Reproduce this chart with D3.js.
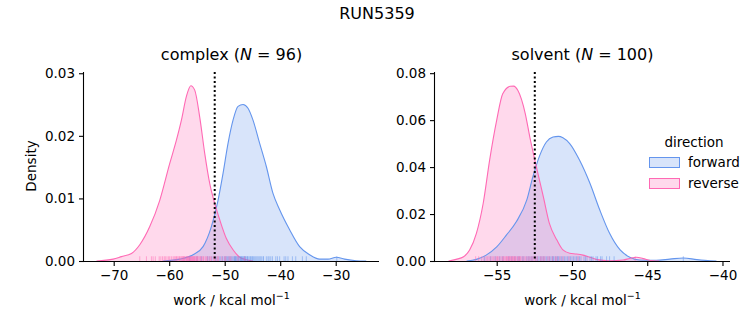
<!DOCTYPE html>
<html>
<head>
<meta charset="utf-8">
<script src="https://cdn.jsdelivr.net/npm/d3@7"></script>
<style>
  body { margin: 0; background: #fff; }
  text { font-family: "DejaVu Sans", sans-serif; fill: #000; }
  .axis path, .axis line { stroke: #000; stroke-width: 1.1; }
  .axis text { font-size: 13.5px; }
</style>
</head>
<body>
<svg id="chart" width="753" height="325"></svg>
<script>
var colors = {forward: "#6495ed", reverse: "#ff69b4"};

// density curves: [work, density]
var complexForward = [[-61.1,0],[-58.1,0.0003],[-55.7,0.001],[-53.9,0.0023],[-52.4,0.0055],[-51.2,0.0097],[-50.3,0.014],[-49.4,0.0188],[-48.5,0.0225],[-47.6,0.0247],[-46.7,0.025],[-45.8,0.0244],[-44.9,0.0225],[-43.7,0.0188],[-42.5,0.0151],[-41.3,0.0108],[-40.1,0.0082],[-38.3,0.005],[-36.5,0.0023],[-34.7,0.001],[-32.9,0.0003],[-31.4,0.0003],[-29.9,0.0006],[-28.4,0.0003],[-26.3,0.00005],[-24.5,0]];
var complexReverse = [[-73.1,0],[-70.1,0.0003],[-68.6,0.0007],[-66.8,0.0012],[-65.3,0.0026],[-63.5,0.0055],[-61.7,0.0097],[-59.9,0.0156],[-58.7,0.0193],[-57.8,0.0225],[-56.9,0.0263],[-56.1,0.028],[-55.4,0.0273],[-54.5,0.023],[-53.6,0.0172],[-52.7,0.0124],[-51.8,0.0092],[-50.9,0.0066],[-49.7,0.0036],[-48.5,0.0018],[-47.3,0.0006],[-46.1,0.0002],[-44.9,0]];
var solventForward = [[-57.0,0],[-56.35,0.0007],[-55.7,0.0025],[-55.0,0.006],[-54.36,0.011],[-53.7,0.0167],[-53.0,0.026],[-52.6,0.0358],[-52.14,0.045],[-51.7,0.0507],[-51.26,0.0528],[-50.9,0.0531],[-50.6,0.0525],[-50.15,0.05],[-49.5,0.043],[-48.8,0.033],[-48.15,0.0217],[-47.5,0.0118],[-46.8,0.0047],[-46.16,0.0016],[-45.5,0.0004],[-44.4,0.0003],[-43.5,0.0008],[-42.6,0.0013],[-41.7,0.0006],[-40.8,0.0001],[-40.4,0]];
var solventReverse = [[-58.2,0],[-57.7,0.0007],[-57.2,0.0018],[-56.8,0.0047],[-56.35,0.0118],[-55.9,0.0245],[-55.47,0.043],[-55.0,0.06],[-54.6,0.0712],[-54.1,0.0744],[-53.87,0.0745],[-53.6,0.0727],[-53.1,0.0627],[-52.8,0.0528],[-52.36,0.040],[-51.9,0.0273],[-51.5,0.016],[-51.0,0.0089],[-50.6,0.0047],[-50.15,0.0033],[-49.7,0.003],[-49.26,0.0025],[-48.8,0.0016],[-48.4,0.0007],[-47.5,0.0001],[-46.6,0.0004],[-46.16,0.0011],[-45.7,0.0016],[-45.27,0.001],[-44.6,0.0001],[-44.2,0]];

// rug samples (estimated)
var complexForwardRug = [-56.3,-55.0,-54.2,-53.1,-52.8,-52.3,-51.7,-51.4,-51.0,-50.7,-50.4,-50.1,-49.9,-49.7,-49.5,-49.3,-49.1,-48.9,-48.7,-48.5,-48.3,-48.2,-48.1,-48.0,-47.9,-47.7,-47.5,-47.4,-47.2,-47.1,-47.0,-46.9,-46.8,-46.6,-46.5,-46.4,-46.3,-46.2,-46.0,-45.9,-45.8,-45.6,-45.4,-45.3,-45.1,-45.0,-44.8,-44.6,-44.4,-44.2,-44.0,-43.8,-43.6,-43.4,-43.1,-43.0,-42.5,-42.2,-42.0,-41.7,-41.4,-40.8,-40.5,-40.1,-39.3,-39.0,-38.6,-37.8,-37.2,-36.0,-35.3,-29.8];
var complexReverseRug = [-65.3,-64.1,-63.2,-62.9,-62.5,-61.8,-61.5,-61.2,-60.9,-60.7,-60.4,-60.1,-59.9,-59.6,-59.3,-59.1,-58.9,-58.7,-58.6,-58.4,-58.2,-58.1,-57.9,-57.8,-57.6,-57.5,-57.4,-57.3,-57.2,-57.0,-56.9,-56.8,-56.7,-56.6,-56.5,-56.4,-56.3,-56.2,-56.1,-56.0,-55.9,-55.8,-55.7,-55.6,-55.5,-55.4,-55.3,-55.1,-55.0,-54.9,-54.8,-54.6,-54.4,-54.3,-54.1,-53.9,-53.8,-53.5,-53.3,-53.1,-52.8,-52.6,-52.4,-52.0,-51.8,-51.6,-51.3,-51.1,-50.5,-50.0,-49.8,-49.2,-48.9,-47.6,-46.4];
var solventForwardRug = [-55.8,-55.4,-55.1,-54.8,-54.6,-54.2,-54.0,-53.8,-53.6,-53.5,-53.3,-53.2,-53.0,-52.9,-52.8,-52.7,-52.6,-52.4,-52.3,-52.2,-52.1,-52.0,-51.9,-51.8,-51.7,-51.6,-51.5,-51.4,-51.3,-51.25,-51.2,-51.1,-51.0,-50.95,-50.9,-50.8,-50.7,-50.6,-50.5,-50.4,-50.3,-50.2,-50.1,-50.0,-49.9,-49.8,-49.7,-49.6,-49.5,-49.4,-49.2,-49.1,-49.0,-48.8,-48.7,-48.6,-48.4,-48.3,-48.1,-48.0,-47.7,-47.5,-47.2,-42.6];
var solventReverseRug = [-56.4,-56.2,-56.0,-55.85,-55.7,-55.6,-55.5,-55.4,-55.3,-55.2,-55.1,-55.0,-54.95,-54.9,-54.8,-54.7,-54.6,-54.55,-54.5,-54.4,-54.35,-54.3,-54.25,-54.2,-54.15,-54.1,-54.05,-54.0,-53.95,-53.9,-53.85,-53.8,-53.75,-53.7,-53.6,-53.55,-53.5,-53.45,-53.4,-53.3,-53.2,-53.1,-53.0,-52.9,-52.8,-52.7,-52.6,-52.5,-52.4,-52.3,-52.1,-52.0,-51.9,-51.8,-51.6,-51.5,-51.3,-51.1,-51.0,-50.8,-50.6,-50.2,-49.6,-45.8];

var panels = [
  {name: "complex", n: 96, xDomain: [-75.35, -22.2], yDomain: [0, 0.0302], xTicks: [-70, -60, -50, -40, -30], yTicks: [0, 0.01, 0.02, 0.03],
   left: 84, forward: complexForward, reverse: complexReverse, forwardRug: complexForwardRug, reverseRug: complexReverseRug, mark: -51.8},
  {name: "solvent", n: 100, xDomain: [-59.1, -39.5], yDomain: [0, 0.0805], xTicks: [-55, -50, -45, -40], yTicks: [0, 0.02, 0.04, 0.06, 0.08],
   left: 435, forward: solventForward, reverse: solventReverse, forwardRug: solventForwardRug, reverseRug: solventReverseRug, mark: -52.47}
];

var svg = d3.select("#chart");
var plotTop = 72, plotBottom = 261, w = 295;

svg.append("text").attr("x", 377).attr("y", 19).attr("text-anchor", "middle")
  .style("font-size", "16px").text("RUN5359");

panels.forEach(function(p, i){
  var x = d3.scaleLinear().domain(p.xDomain).range([p.left, p.left + w]);
  var y = d3.scaleLinear().domain(p.yDomain).range([plotBottom, plotTop]);
  var g = svg.append("g");

  var clipId = "clip" + i;
  g.append("clipPath").attr("id", clipId).append("rect")
    .attr("x", p.left).attr("y", plotTop).attr("width", w).attr("height", plotBottom - plotTop);
  var plot = g.append("g").attr("clip-path", "url(#" + clipId + ")");

  var area = d3.area().curve(d3.curveMonotoneX)
    .x(function(d){ return x(d[0]); }).y0(y(0)).y1(function(d){ return y(d[1]); });
  var line = d3.line().curve(d3.curveMonotoneX)
    .x(function(d){ return x(d[0]); }).y(function(d){ return y(d[1]); });

  ["forward", "reverse"].forEach(function(dir){
    plot.append("path").datum(p[dir]).attr("d", area)
      .attr("fill", colors[dir]).attr("fill-opacity", 0.25);
  });
  ["forward", "reverse"].forEach(function(dir){
    plot.append("path").datum(p[dir]).attr("d", line)
      .attr("fill", "none").attr("stroke", colors[dir]).attr("stroke-width", 1.1);
  });

  // rugs
  var rugH = (plotBottom - plotTop) * 0.025;
  ["forward", "reverse"].forEach(function(dir){
    plot.selectAll(null).data(p[dir + "Rug"]).enter().append("line")
      .attr("x1", function(d){ return x(d); }).attr("x2", function(d){ return x(d); })
      .attr("y1", plotBottom).attr("y2", plotBottom - rugH)
      .attr("stroke", colors[dir]).attr("stroke-opacity", 0.5).attr("stroke-width", 1);
  });

  // dotted line
  plot.append("line").attr("x1", x(p.mark)).attr("x2", x(p.mark))
    .attr("y1", plotTop).attr("y2", plotBottom)
    .attr("stroke", "#000").attr("stroke-width", 2).attr("stroke-dasharray", "2,2.5");

  // axes
  g.append("g").attr("class", "axis").attr("transform", "translate(0," + plotBottom + ")")
    .call(d3.axisBottom(x).tickValues(p.xTicks).tickSize(5).tickPadding(4)
      .tickFormat(function(d){ return d < 0 ? "\u2212" + Math.abs(d) : d; }))
    .call(function(a){ a.select(".domain").attr("d", "M" + p.left + ",0.5H" + (p.left + w)); });
  g.append("g").attr("class", "axis").attr("transform", "translate(" + p.left + ",0)")
    .call(d3.axisLeft(y).tickValues(p.yTicks).tickSize(5).tickPadding(4).tickFormat(d3.format(".2f")))
    .call(function(a){ a.select(".domain").attr("d", "M-0.5," + plotTop + "V" + plotBottom); });

  // title
  var t = svg.append("text").attr("x", p.left + w / 2).attr("y", 60).attr("text-anchor", "middle")
    .style("font-size", "16px");
  t.append("tspan").text(p.name + " (");
  t.append("tspan").style("font-style", "italic").text("N");
  t.append("tspan").text(" = " + p.n + ")");

  // x label
  var xl = svg.append("text").attr("x", p.left + w / 2).attr("y", 305).attr("text-anchor", "middle")
    .style("font-size", "13.5px");
  xl.append("tspan").text("work / kcal mol");
  xl.append("tspan").attr("dy", -6).style("font-size", "9.5px").text("\u22121");
});

svg.append("text").attr("transform", "translate(36,166) rotate(-90)").attr("text-anchor", "middle")
  .style("font-size", "13.5px").text("Density");

// legend
var legend = svg.append("g");
legend.append("text").attr("x", 694).attr("y", 147).attr("text-anchor", "middle")
  .style("font-size", "13.5px").text("direction");
["forward", "reverse"].forEach(function(dir, i){
  var yy = 157 + i * 21;
  legend.append("rect").attr("x", 649.5).attr("y", yy + 0.5).attr("width", 30).attr("height", 10)
    .attr("fill", colors[dir]).attr("fill-opacity", 0.25).attr("stroke", colors[dir]).attr("stroke-width", 1);
  legend.append("text").attr("x", 688).attr("y", yy + 10).style("font-size", "13.5px").text(dir);
});
</script>
</body>
</html>
